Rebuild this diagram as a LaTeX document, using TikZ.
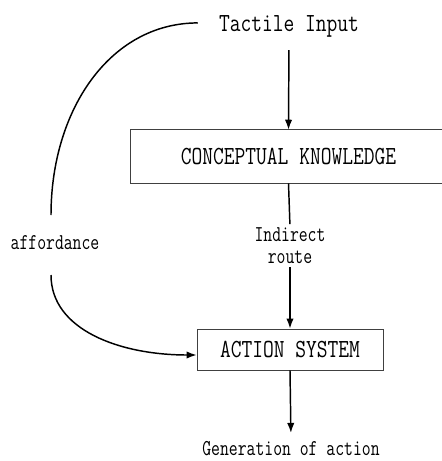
\documentclass[tikz,border=0pt]{standalone}
\usepackage{amssymb}
\usepackage{amsmath}
\usetikzlibrary{arrows.meta,calc}

\newcommand{\narrowtext}[2]{\scalebox{#1}[1]{#2}}

\tikzset{
  label big/.style={font=\ttfamily\fontsize{19.6}{22}\selectfont, inner sep=0.75pt},
  label small/.style={font=\ttfamily\fontsize{17}{16.5}\selectfont, inner sep=0.75pt, align=center},
  box/.style={draw=black!75, line width=0.6pt},
  link/.style={line width=1.1pt},
  flow/.style={link, -{Latex[length=7.5pt,width=5.5pt]}},
}

\begin{document}
\begin{tikzpicture}[x=0.75pt,y=0.75pt,yscale=-1,xscale=1]
\useasboundingbox (0,0) rectangle (442,461);

% Text Node
\node[label big, anchor=base] (tactile) at (289,31) {\narrowtext{0.8}{Tactile Input}};
% Text Node (box runs past the right edge)
\node[label big, minimum width=236.25pt, minimum height=39.75pt] (concept) at (288.5,156.5) {\narrowtext{0.8}{CONCEPTUAL KNOWLEDGE}};
\draw[box] (concept.north west) rectangle ($(concept.south east)+(25,0)$);
% Text Node
\node[label small] (indirect) at (290,246) {\narrowtext{0.76}{Indirect}\\\narrowtext{0.76}{route}};
% Shape: Rectangle
\node[box, label big, minimum width=139.5pt, minimum height=30.75pt] (action) at (290,349.5) {\narrowtext{0.8}{ACTION SYSTEM}};
% Text Node
\node[label small, anchor=base] (afford) at (55,249) {\narrowtext{0.76}{affordance}};
% Text Node
\node[label small, anchor=base] (gen) at (291,455) {\narrowtext{0.76}{Generation of action}};

\coordinate (affTop) at (51,215);
\coordinate (affBot) at (51,275);

%Straight Lines
\draw[flow, shorten <=9pt] (tactile.south) -- (concept.north);
\draw[link, shorten >=2pt] (concept.south) -- (indirect.north);
\draw[flow, shorten <=1.5pt] (indirect.south) -- (action.north);
\draw[flow, shorten >=5pt] (action.south) -- (gen.north);

%Curve Lines
\draw[link] ($(tactile.west)+(-20,-3)$) .. controls (110,23) and (51,110) .. (affTop);
\draw[flow] (affBot) .. controls (51,330) and (120,355) .. ($(action.west)+(0,5.5)$);

\end{tikzpicture}
\end{document}
